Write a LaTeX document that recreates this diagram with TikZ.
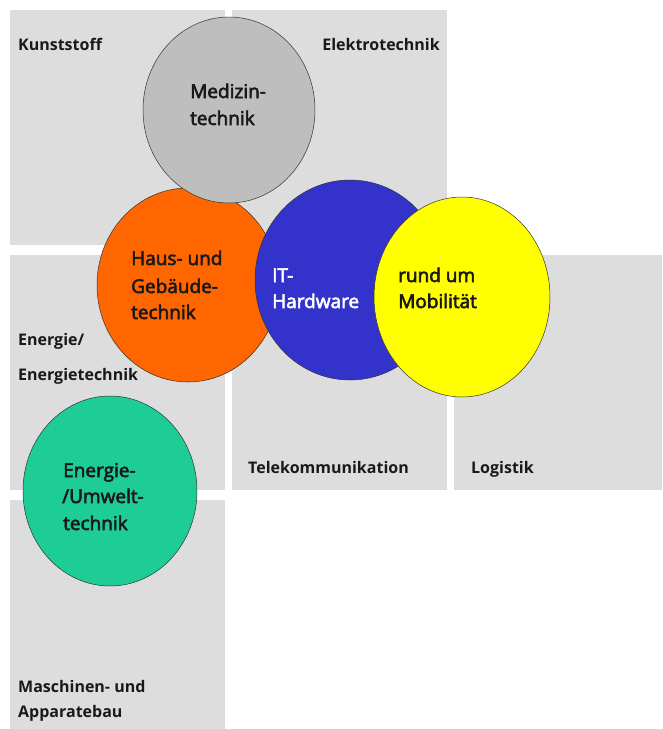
\documentclass[tikz,border=0pt]{standalone}
\usepackage{fontspec}
\setmainfont{Open Sans}
\newfontfamily\blobfont{Open Sans}[FakeBold=3]
\usetikzlibrary{shapes.geometric}
\definecolor{boxgray}{RGB}{221,221,221}
\definecolor{medgray}{RGB}{190,190,190}
\definecolor{hausorange}{RGB}{255,102,0}
\definecolor{itblue}{RGB}{51,51,204}
\definecolor{mobyellow}{RGB}{255,255,0}
\definecolor{umweltgreen}{RGB}{30,204,150}
\definecolor{ink}{RGB}{25,25,25}
\begin{document}
\begin{tikzpicture}[x=1pt,y=-1pt,
  field/.style={fill=boxgray,draw=none},
  fieldlabel/.style={anchor=base west,inner sep=0pt,text=ink,font=\fontsize{16}{19}\selectfont\bfseries},
  blob/.style={ellipse,draw=black!80,line width=0.5pt,inner sep=0pt},
  bloblabel/.style={anchor=base west,inner sep=0pt,text=ink,font=\blobfont\fontsize{19}{27}\selectfont}
]
\useasboundingbox (0,0) rectangle (662,729);
\fill[white] (0,0) rectangle (662,729);

% background fields
\fill[field] (10,10) rectangle (225,245);
\fill[field] (232,10) rectangle (447,245);
\fill[field] (10,255) rectangle (225,490);
\fill[field] (232,255) rectangle (447,490);
\fill[field] (454,255) rectangle (662,490);
\fill[field] (10,500) rectangle (225,729);

% field names
\node[fieldlabel] (kunst) at (18,50) {Kunststoff};
\node[fieldlabel,anchor=base east] (elektro) at (440,50) {Elektrotechnik};
\node[fieldlabel] (energie1) at (18,345) {Energie/};
\node[fieldlabel] (energie2) at (18,380) {Energietechnik};
\node[fieldlabel] (telekom) at (248,473) {Telekommunikation};
\node[fieldlabel] (logistik) at (471,473) {Logistik};
\node[fieldlabel] (masch1) at (18,692) {Maschinen- und};
\node[fieldlabel] (masch2) at (18,717) {Apparatebau};

% overlapping topic circles
\node[blob,fill=hausorange,minimum width=182pt,minimum height=194pt] (haus) at (188,285) {};
\node[blob,fill=medgray,minimum width=172pt,minimum height=186pt] (medizin) at (229,110) {};
\node[blob,fill=itblue,minimum width=190pt,minimum height=200pt] (it) at (350,280) {};
\node[blob,fill=mobyellow,minimum width=176pt,minimum height=200pt] (mobil) at (462,297) {};
\node[blob,fill=umweltgreen,minimum width=174pt,minimum height=190pt] (umwelt) at (110,491) {};

% circle texts
\node[bloblabel] (med1) at (190,98) {Medizin-};
\node[bloblabel] (med2) at (190,125) {technik};
\node[bloblabel] (haus1) at (131,265) {Haus- und};
\node[bloblabel] (haus2) at (131,293) {Gebäude-};
\node[bloblabel] (haus3) at (131,319) {technik};
\node[bloblabel,text=white] (it1) at (272,282) {IT-};
\node[bloblabel,text=white] (it2) at (272,308) {Hardware};
\node[bloblabel] (mob1) at (398,282) {rund um};
\node[bloblabel] (mob2) at (398,308) {Mobilität};
\node[bloblabel] (umw1) at (63,477) {Energie-};
\node[bloblabel] (umw2) at (62,503) {/Umwelt-};
\node[bloblabel] (umw3) at (63,530) {technik};
\end{tikzpicture}
\end{document}
